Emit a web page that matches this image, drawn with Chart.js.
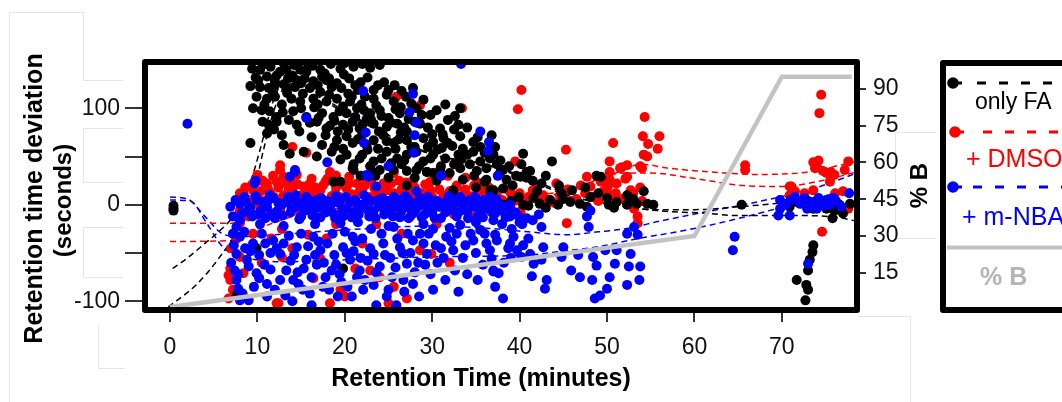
<!DOCTYPE html>
<html><head><meta charset="utf-8">
<script src="https://cdn.jsdelivr.net/npm/chart.js@4.4.1/dist/chart.umd.min.js"></script>
<style>html,body{margin:0;padding:0;background:#fff;overflow:hidden}#c{display:block}</style>
</head><body>
<canvas id="c" width="1062" height="402"></canvas>
<script>
// ---------- axis ticks ----------
const xTicks=[0,10,20,30,40,50,60,70];
const yTicks=[-100,-50,0,50,100];
const yTickLabels=['-100','','0','','100'];
const y2Ticks=[15,30,45,60,75,90];

// ---------- scatter series: [retention time (min), deviation (s)] ----------
const onlyFA=[[0.4,-1],[0.4,-4],[0.4,-6],
[9.4,141],[10.3,140],[12.6,138],[13.3,140],[14.9,140],[15.6,138],[17.2,140],[17.7,136],[19.5,141],[22.9,142],[11.5,143],[16.3,144],[21.0,143],
[10.1,129],[11.1,133],[12.2,134],[13.5,131],[14.5,129],[15.4,131],[16.4,128],[17.4,133],[17.9,129],[19.1,126],[20.5,131],[21.8,127],
[10.3,122],[11.3,121],[12.0,124],[13.3,121],[14.3,122],[16.0,121],[17.2,117],[18.5,122],[19.6,121],[20.4,115],[21.5,119],[23.3,119],[25.7,124],[24.5,127],[22.3,112],
[9.9,112],[11.1,110],[12.0,112],[13.9,110],[14.9,107],[16.4,110],[17.9,107],[19.1,110],[20.6,107],[21.9,104],[23.3,110],[24.8,114],[25.6,107],[29.0,109],[27.0,112],[26.4,101],
[9.5,100],[10.5,98],[11.4,97],[12.2,91],[14.1,97],[15.6,91],[17.4,95],[18.7,91],[20.2,95],[21.4,100],[22.9,95],[24.0,98],[26.3,95],[28.2,100],[29.8,93],[27.3,89],[25.0,90],[23.6,103],[19.8,102],[16.5,101],
[11.3,83],[12.2,86],[14.5,83],[16.8,86],[17.9,79],[19.8,83],[20.9,86],[21.7,79],[23.3,84],[24.8,81],[27.1,76],[28.6,84],[30.9,79],[33.2,100],[33.0,83],[26.0,84],[22.5,89],[18.8,87],[31.8,88],[30.0,73],
[9.2,64],[11.1,74],[12.8,72],[17.4,62],[19.1,67],[20.2,71],[20.9,64],[23.3,67],[24.4,72],[25.6,64],[27.1,67],[29.0,69],[30.1,65],[31.3,69],[33.2,71],[34.7,65],[22.0,73],[26.4,75],[28.0,60],[32.3,61],
[13.7,53],[15.3,55],[18.5,55],[20.2,52],[21.7,48],[23.3,45],[24.8,55],[26.0,48],[27.1,52],[29.0,45],[30.1,52],[31.1,59],[32.5,42],[34.0,52],[34.7,55],[36.6,48],[25.8,58],[22.6,57],[28.2,55],[33.3,47],
[18.7,24],[20.9,38],[22.9,40],[24.0,36],[25.6,36],[27.1,35],[28.2,36],[30.1,33],[32.0,33],[33.2,38],[34.3,42],[35.1,35],[36.2,38],[37.4,42],[31.0,40],[26.5,42],[29.4,34],[23.5,30],
[36.8,72],[37.2,60],[37.0,52],[38.1,36],[40.4,53],[40.2,42],[41.2,35],[40.8,28],[43.7,45],[42.5,22],[48.8,30],
[37.8,34],[40.1,29],[40.8,34],[38.1,17],[37.0,15],[38.1,0],[39.9,8],[41.6,7],[40.4,0],[42.3,1],[43.5,5],[44.4,0],[45.8,3],[46.9,1],[48.1,8],[47.7,-2],[49.3,29],[50.0,7],[50.2,0],[51.1,3],[52.3,10],[52.3,0],[53.4,1],[54.2,14],[54.6,1],[55.3,0],[39.2,20],[42.0,14],[44.8,12],[36.0,24],[35.0,18],
[65.4,0],[70.2,1],[70.9,-2],[71.7,3],[72.8,0],[73.6,-4],[74.5,1],[75.1,-4],[75.8,-14],[77.0,-9],[77.8,1],[76.6,0],[71.0,5],[73.0,4],[76.0,-6],[74.0,-2],
[73.6,-42],[73.5,-49],[73.2,-57],[73.0,-68],[71.7,-78],[72.8,-83],[73.0,-88],[72.7,-99],
[19.5,24],[21.0,36],[23.3,33],[27.1,20],[29.4,34],[30.9,36],[32.4,15],[36.6,15],[36.2,26],[9.9,-45],[19.8,-66],[7.6,-94],[24.0,0],[29.2,0],[32.4,1],
[10.8,146],[13.0,147],[14.2,145],[15.8,146],[18.4,146],[20.0,147],[22.0,146],[24.0,145],[12.0,128],[13.0,125],[14.0,134],[15.0,126],[16.9,124],[18.2,131],[19.9,135],[21.2,124],[22.6,132],[23.8,124],[25.0,119],[26.5,118],[27.8,121],
[10.8,104],[12.8,104],[13.4,116],[15.2,115],[16.9,104],[18.2,114],[19.4,97],[20.8,112],[22.2,98],[23.0,88],[24.2,92],[25.8,99],[27.6,105],[28.8,93],[30.5,98],[31.5,104],[32.6,92],
[12.9,96],[13.6,88],[15.0,100],[16.0,85],[17.0,90],[18.3,82],[19.2,76],[20.4,78],[21.2,91],[22.0,83],[23.9,76],[25.3,85],[26.8,80],[28.0,86],[29.5,80],[31.2,73],[32.5,78],[34.0,80],[35.2,70],
[14.8,76],[16.2,70],[17.8,72],[18.8,60],[19.8,58],[21.5,68],[22.5,62],[23.8,58],[24.8,66],[26.2,68],[27.6,60],[29.5,60],[30.6,57],[31.8,64],[33.5,58],[35.5,60],[36.0,54],
[16.8,50],[19.5,47],[21.0,42],[22.0,52],[24.2,48],[25.3,43],[26.8,46],[28.5,40],[29.8,48],[31.5,48],[33.0,52],[35.5,45],[37.8,46],[38.8,40],[39.6,30],
[21.8,30],[25.0,28],[28.0,28],[30.5,25],[33.5,26],[34.8,30],[38.5,26],[41.5,25],[43.0,30],[44.5,20],[46.0,15],[47.5,18],[49.0,12],[45.0,6],[39.0,4],[41.0,-1],[43.0,-3],[50.8,-3],[53.0,6],[11.8,115],[9.8,132],[9.2,123],[10.6,86],[11.9,78],[13.0,62]];

const dmso=[[8.4,12],[9.5,22],[10.9,20],[12.2,24],[13.3,22],[15.3,19],[16.4,10],[17.5,20],[18.9,12],[20.2,17],[21.4,22],[22.9,8],[24.4,22],[25.6,12],[27.1,17],[28.2,5],[29.8,15],[31.3,10],[32.8,20],[34.1,5],[35.5,17],[36.6,3],[37.4,8],
[12.6,36],[14.5,31],[18.3,34],[22.5,26],[25.6,33],[12.6,41],[11.1,22],[8.0,12],[9.5,15],
[8.0,-6],[10.3,-2],[12.6,-6],[14.9,-9],[17.9,-4],[21.0,-2],[23.3,-11],[26.3,0],[29.4,-7],[33.2,-6],[34.7,-12],[8.0,-19],[7.6,-35],
[9.0,5],[10.0,9],[11.5,12],[12.8,6],[14.0,14],[15.8,4],[17.0,12],[18.2,3],[19.4,8],[20.8,11],[22.0,15],[23.8,13],[25.0,4],[26.8,9],[28.8,12],[30.5,3],[32.0,14],[33.5,10],[35.0,8],[36.0,12],[38.0,5],[39.0,12],[40.5,3],[41.5,15],[42.5,8],[44.0,2],[45.5,16],[46.5,6],[47.5,12],[49.0,4],[50.5,10],[51.8,6],[53.0,12],[54.0,4],
[11.8,30],[16.2,27],[19.0,30],[23.0,31],[27.8,25],[30.5,27],[33.8,28],[14.2,-3],[20.5,-8],[24.5,-4],[27.5,-12],[31.2,-2],[35.8,-4],
[6.7,-73],[6.9,-78],[6.7,-97],[6.9,-66],[8.0,-54],[12.8,-54],[12.2,-102],[16.4,-76],[17.2,-56],[19.5,-88],[20.0,-95],[22.9,-68],[24.0,-75],[25.6,-85],[27.1,-97],[28.6,-47],[29.9,-51],[18.3,-102],[25.0,-102],[21.2,-66],[15.8,-31],[11.6,-35],[17.9,-35],[12.8,-25],[8.4,-71],[12.4,-102],[7.0,-45],[7.2,-88],[10.5,-60],[14.0,-45],[22.0,-40],[26.5,-30],[30.5,-20],[32.0,-60],[23.6,-20],[19.0,-20],[9.5,-30],
[40.2,119],[39.8,99],[45.3,57],[50.7,64],[50.3,45],[50.3,34],[50.3,26],[51.7,39],[52.3,41],[52.1,27],[54.3,91],[54.1,71],[56.0,71],[54.7,63],[55.8,58],[54.2,52],[54.6,50],[54.0,38],[65.8,41],[65.8,36],
[74.5,114],[74.3,95],[73.6,44],[74.0,40],[74.7,35],[73.8,38],[74.2,46],[75.3,33],[77.6,45],[77.2,36],[74.6,-28],[50.0,22],[51.5,38],[53.8,40],
[37.4,10],[38.5,-6],[40.1,-7],[42.7,10],[45.4,-19],[44.2,22],[47.7,29],[48.1,19],[49.3,24],[50.1,19],[51.1,22],[52.3,29],[53.5,-12],[53.1,-4],[53.5,-19],[52.7,15],
[75.6,34],[76.0,31],[70.9,19],[71.5,14],[73.6,15],[77.0,14],[71.1,19],[70.9,10],[72.6,12],[75.1,33],[75.5,24],[77.6,-4],[76.1,12],
[39.5,45],[25.9,112],[28.6,103],[33.4,100],[15.6,54],[14.0,60],[9.8,3],
[8.6,18],[9.1,-1],[9.8,26],[10.4,14],[10.8,4],[11.2,17],[11.9,8],[12.4,18],[13.0,10],[13.6,17],[13.9,3],[14.6,21],[15.0,10],[15.6,14],[16.0,22],[16.7,6],[17.2,15],[17.8,24],[18.5,9],[19.0,18],[19.8,4],[20.5,22],[21.0,7],[21.7,14],[22.3,20],[22.7,2],[23.4,17],[24.0,8],[24.8,15],[25.3,22],[26.0,7],[26.5,16],[27.4,10],[28.0,18],[28.5,8],[29.2,21],[30.0,8],[30.8,16],[31.6,5],[32.4,12],[33.0,3],[33.8,16],[34.5,9],[35.2,23],[36.2,6],[37.0,15],[37.8,-2],[38.6,16],[39.4,4],[40.0,12],[41.0,8],[42.0,18],[43.2,3],[44.6,10],[45.8,4],[47.0,20],[48.5,8],[49.6,14],[51.0,12],[52.6,6],[53.8,18],
[10.0,31],[13.0,29],[20.5,29],[26.2,25],[31.8,30],[9.0,-12],[11.0,-10],[15.5,-5],[19.0,-11],[22.5,-3],[25.8,-8],[29.0,0],[32.5,-10],[36.8,-8],
[9.2,19],[10.6,25],[13.8,24],[16.6,18],[18.0,27],[20.0,20],[23.0,24],[24.6,18],[27.0,23],[29.8,24],[32.8,18],[34.8,20],[36.5,18]];

const mnba=[[6.9,-2],[7.2,-12],[8.0,1],[8.0,-16],[8.8,-7],[9.7,22],[9.9,5],[11.1,-2],[11.8,7],[12.2,-7],[13.3,3],[14.5,-2],[15.6,8],[16.4,-6],[17.5,1],[18.7,-9],[19.5,5],[20.2,-4],[21.4,1],[22.5,7],[23.3,-6],[24.0,1],[25.2,-6],[25.6,8],[26.7,1],[27.8,-9],[29.0,3],[30.1,-4],[31.3,1],[32.4,-6],[33.6,3],[34.7,-2],[35.9,5],[37.0,-9],[13.7,29],[14.3,36],[23.6,19],[22.5,31],[28.2,14],
[7.5,5],[8.5,8],[9.2,-3],[10.0,-10],[10.6,3],[11.4,10],[12.0,-14],[12.8,0],[13.8,-8],[14.2,6],[15.0,-12],[15.2,2],[16.0,-1],[16.8,5],[17.2,-13],[18.0,4],[18.3,-3],[19.0,9],[19.8,-12],[20.6,3],[21.0,-8],[21.8,-2],[22.2,10],[22.8,-12],[23.8,5],[24.5,-10],[24.8,4],[25.9,-2],[26.3,-13],[27.2,6],[27.5,-4],[28.5,-1],[28.8,-13],[29.5,8],[30.0,-9],[30.6,4],[31.0,-14],[31.8,6],[32.0,-2],[32.8,-12],[33.2,8],[34.0,-7],[34.3,5],[35.2,-12],[35.5,1],[36.3,-4],[36.6,8],[37.5,3],[38.2,-2],[38.9,0],[37.2,-9],[39.5,-8],[40.8,-14],
[10.3,-20],[13.0,-22],[16.6,-20],[21.5,-18],[25.0,-22],[29.0,-20],[32.0,-24],[35.0,-18],
[8.2,-9],[8.7,3],[9.4,-12],[9.8,9],[10.4,-6],[10.9,-14],[11.2,4],[11.6,-9],[12.4,2],[12.9,-11],[13.5,8],[13.9,-4],[14.4,10],[14.8,-15],[15.4,-6],[15.9,5],[16.3,-11],[16.9,-3],[17.3,7],[17.8,-8],[18.4,0],[18.9,-14],[19.3,2],[19.7,-5],[20.1,8],[20.8,-13],[21.2,5],[21.6,-10],[22.0,0],[22.6,-5],[23.0,4],[23.5,-14],[23.9,-2],[24.3,7],[24.7,-7],[25.1,2],[25.5,-12],[26.1,5],[26.5,-6],[26.9,9],[27.3,-14],[27.7,2],[28.1,-5],[28.6,7],[29.1,-10],[29.4,-1],[29.9,5],[30.3,-14],[30.8,-2],[31.5,-8],[31.9,9],[32.3,0],[32.7,5],[33.0,-8],[33.5,-1],[34.1,-14],[34.5,2],[34.9,8],[35.4,-6],[35.8,-13],[36.1,3],[36.8,-2],[37.3,6],[37.8,-6],[38.4,-13],[39.0,-5],[39.8,-11],[40.3,-20],[41.5,-16],[42.2,-10],
[7.6,-23],[8.0,-33],[7.6,-51],[7.4,-68],[7.6,-78],[7.8,-87],[8.0,-99],[8.8,-57],[9.5,-40],[9.9,-71],[11.1,-95],[11.1,-82],[11.8,-37],[12.6,-51],[13.3,-68],[14.1,-78],[14.5,-44],[15.3,-66],[15.6,-57],[16.4,-33],[17.2,-47],[17.5,-85],[18.5,-68],[19.5,-19],[19.8,-44],[20.9,-33],[20.6,-57],[21.4,-75],[22.1,-88],[23.3,-51],[24.0,-64],[24.8,-95],[25.6,-23],[26.3,-44],[26.7,-78],[27.1,-61],[27.8,-37],[28.6,-30],[29.4,-51],[30.1,-88],[30.1,-25],[31.6,-33],[32.4,-47],[33.2,-21],[34.7,-37],[35.5,-26],[37.0,-69],[36.6,-47],[37.4,-37],[16.2,-104],[23.6,-104],[25.9,-104],[21.7,-68],[19.6,-80],[14.7,-82],[9.0,-99],[23.3,-83],
[8.5,-28],[9.2,-48],[10.5,-30],[10.8,-62],[12.0,-88],[13.0,-40],[13.8,-58],[15.0,-30],[16.0,-92],[16.8,-62],[18.0,-40],[18.8,-52],[19.2,-95],[20.0,-28],[21.0,-48],[22.0,-35],[22.6,-58],[23.0,-25],[24.4,-40],[25.2,-55],[25.4,-75],[26.0,-35],[27.5,-50],[28.0,-70],[28.5,-95],[29.0,-40],[30.6,-60],[31.0,-45],[32.8,-30],[33.5,-55],[34.0,-72],[35.0,-50],[35.8,-62],[36.0,-30],[31.5,-78],[33.0,-90],[29.8,-72],[26.8,-90],[11.5,-50],[14.0,-100],[17.8,-75],[20.3,-85],
[7.2,-30],[7.3,-42],[7.0,-60],[7.8,-72],[8.3,-92],[8.6,-45],[9.0,-64],[9.6,-85],[10.2,-52],[10.2,-76],[10.9,-40],[11.5,-67],[12.2,-45],[12.6,-78],[13.2,-94],[13.6,-32],[14.2,-52],[14.6,-70],[15.2,-88],[15.8,-43],[16.2,-75],[16.6,-52],[17.0,-38],[17.6,-60],[18.2,-88],[18.6,-30],[19.0,-62],[19.4,-72],[20.2,-50],[20.8,-95],[21.2,-38],[21.8,-55],[22.3,-78],[22.9,-45],[23.6,-70],[24.2,-30],[24.6,-52],[25.0,-88],[25.8,-65],[26.6,-50],[27.2,-30],[27.8,-82],[28.4,-60],[29.2,-62],[29.6,-30],[30.4,-42],[31.3,-55],[32.2,-38],[32.6,-68],[33.8,-42],[34.4,-30],[35.2,-78],[36.2,-40],[36.8,-56],
[37.0,-16],[37.2,-31],[37.0,-68],[37.6,-71],[37.2,-85],[38.1,-97],[38.9,-12],[39.1,-25],[38.9,-40],[39.3,-33],[38.7,-45],[39.7,-47],[40.4,-42],[40.2,-54],[41.2,-51],[41.6,-61],[41.4,-74],[42.5,-23],[42.7,-44],[42.5,-57],[43.1,-78],[42.9,-87],[45.0,-44],[44.8,-54],[45.9,-68],[46.9,-75],[46.7,-52],[47.7,-12],[48.1,-6],[47.9,-23],[48.4,-54],[48.8,-63],[48.3,-78],[48.6,-97],[49.2,-94],[50.0,-87],[50.3,-75],[50.9,-61],[51.1,-47],[49.8,-47],[52.3,-30],[52.7,-51],[52.5,-64],[52.3,-83],[53.7,-78],[53.8,-64],[53.1,-23],[53.5,-31],[38.0,-20],[40.0,-18],[39.0,-55],[41.0,-35],[38.2,-60],
[64.6,-33],[64.4,-47],
[69.8,5],[69.8,-4],[69.6,-11],[71.1,5],[70.9,-11],[72.1,1],[72.6,7],[73.6,3],[74.2,7],[74.0,-4],[75.1,5],[75.5,0],[75.9,7],[76.8,-2],[77.7,12],[72.9,-4],[70.5,0],[73.0,-61],[71.5,8],[73.2,-2],[76.2,4],[74.8,-1],
[2.0,84],[22.1,118],[15.6,90],[22.4,75],[22.2,64],[27.8,115],[27.4,96],[28.2,85],[28.0,72],[27.9,54],[14.3,34],[9.8,25],[22.7,29],[35.5,76],[36.5,65],[36.4,56],[33.3,146],[25.0,40],[31.0,30],[18.0,44],[37.5,30]];

// ---------- fitted trend curves ----------
const fitFA1=[[0.3,-66],[2,-55],[4,-40],[5.3,-30],[7.2,-12],[8.4,10],[9.2,24],[10.3,57],[11.4,95],[12.2,117],[13.5,128],[15,125],[17,112],[20,95],[25,72],[30,52],[35,44],[38,36],[42,22],[45.4,10],[50,1],[55.7,-5],[60,-5],[65,-2],[70,2],[74,7],[78.6,13]];
const fitFA2=[[-0.2,-106],[3.1,-82],[5.7,-54],[8,-22],[9.5,10],[10.7,57],[11.8,95],[12.8,118],[14.3,126],[16,120],[18,108],[21,92],[26,68],[31,50],[36,42],[39,34],[43,20],[46,9],[50,1],[55.7,-6],[61.8,-9],[64.5,-11],[70.5,-11],[75.9,-12.5],[78.6,-17]];
const fitDMSO1=[[0,-19],[7,-19],[10,-12],[15,-3],[20,2],[30,5],[40,8],[45,14],[48,20],[51,33],[54,42],[57,38],[62,34],[67,31.5],[72,33],[78.6,45]];
const fitDMSO2=[[0,-38],[7,-37],[10,-25],[15,-10],[20,-3],[30,0],[40,3],[43,8],[47,20],[52,33],[55,33],[59.5,28],[65.6,20],[70,19],[74,24],[78.6,34]];
const fitNBA1=[[0,8],[2,6],[4,-12],[6,-30],[8,-33],[12,-31],[20,-26],[30,-22],[36.6,-24.5],[41,-28],[45.4,-31],[49,-28],[52.3,-24.5],[56,-17],[60.3,-9],[65,-1],[69,6.6],[74,18],[78.6,33]];
const fitNBA2=[[0,5],[2.3,4],[4.2,-19],[5.7,-40],[6.9,-50],[8,-54],[9.2,-56],[12.6,-59],[20,-57],[30,-54],[41,-52],[45,-48],[49,-43.5],[53,-36],[60,-24.5],[66,-12],[70.6,-1],[78.6,18]];

// ---------- solvent gradient (% B) ----------
const gradTime=[0,60,70,78];
const gradB=[1,30,95,95];

const FONT="'Liberation Sans', Arial, Helvetica, sans-serif";
Chart.defaults.font.family=FONT;
const xy=a=>a.map(p=>({x:p[0],y:p[1]}));

function pts(label,data,color,order){return{type:'scatter',label,data:xy(data),backgroundColor:color,borderWidth:0,pointRadius:5,pointHoverRadius:5,order,showLine:false};}
function fit(data,color){return{type:'line',data:xy(data),borderColor:color,borderWidth:1.5,borderDash:[6,4],pointRadius:0,fill:false,showLine:true,cubicInterpolationMode:'monotone',order:5};}

const frameAndText={
  id:'frameAndText',
  beforeDraw(c){
    const ctx=c.ctx;ctx.save();
    ctx.fillStyle='#fff';ctx.fillRect(0,0,c.width,c.height);
    ctx.strokeStyle='#e6e6e6';ctx.lineWidth=1;
    const L=(x1,y1,x2,y2)=>{ctx.beginPath();ctx.moveTo(x1,y1);ctx.lineTo(x2,y2);ctx.stroke();};
    L(9.5,12,9.5,402);L(9.5,12.5,84,12.5);L(83.5,12,83.5,80);L(83,80.5,123,80.5);
    L(83.5,128,83.5,182);L(83,128.5,123,128.5);L(83,182.5,123,182.5);
    L(83.5,227,83.5,277);L(83,227.5,123,227.5);L(83,277.5,123,277.5);
    L(98.5,325,98.5,368);L(98,368.5,125,368.5);
    L(858,316.5,911,316.5);L(910.5,316,910.5,402);
    L(895.5,132,895.5,238);L(895,132.5,937,132.5);L(895,238.5,937,238.5);
    ctx.restore();
  },
  afterDraw(c){
    const ctx=c.ctx,a=c.chartArea;ctx.save();
    ctx.strokeStyle='#000';ctx.lineWidth=6;ctx.lineJoin='round';
    ctx.strokeRect(a.left,a.top,a.right-a.left,a.bottom-a.top);
    ctx.fillStyle='#000';ctx.textAlign='center';ctx.textBaseline='alphabetic';
    ctx.font="bold 25px "+FONT;
    ctx.fillText('Retention Time (minutes)',481,386);
    ctx.save();ctx.translate(41.5,198.5);ctx.rotate(-Math.PI/2);ctx.fillText('Retention time deviation',0,0);ctx.restore();
    ctx.font="bold 24px "+FONT;
    ctx.save();ctx.translate(70.5,200.5);ctx.rotate(-Math.PI/2);ctx.fillText('(seconds)',0,0);ctx.restore();
    ctx.save();ctx.translate(926.5,185.5);ctx.rotate(-Math.PI/2);ctx.fillText('% B',0,0);ctx.restore();
    ctx.lineWidth=6;ctx.strokeStyle='#000';ctx.strokeRect(943,63,200,247);
    const item=(y,col,dx,dashStart)=>{
      ctx.fillStyle=col;ctx.beginPath();ctx.arc(dx,y,5.8,0,Math.PI*2);ctx.fill();
      ctx.strokeStyle=col;ctx.lineWidth=3;ctx.setLineDash([]);
      ctx.beginPath();ctx.moveTo(dx,y);ctx.lineTo(dx+9,y);ctx.stroke();
      ctx.setLineDash([9,13]);ctx.beginPath();ctx.moveTo(dashStart,y);ctx.lineTo(1070,y);ctx.stroke();ctx.setLineDash([]);
    };
    item(83,'#000',953,977);
    item(132,'#ff0000',955,983);
    item(187,'#0000ff',953,973);
    ctx.strokeStyle='#c3c3c3';ctx.lineWidth=4;ctx.beginPath();ctx.moveTo(947,247.5);ctx.lineTo(1070,247.5);ctx.stroke();
    ctx.textAlign='left';ctx.textBaseline='alphabetic';
    ctx.font="23px "+FONT;ctx.fillStyle='#000';ctx.fillText('only FA',975,109);
    ctx.font="25px "+FONT;ctx.fillStyle='#ff0000';ctx.fillText('+ DMSO',966,166.5);
    ctx.fillStyle='#0000ff';ctx.fillText('+ m-NBA',962,225);
    ctx.font="bold 25px "+FONT;ctx.fillStyle='#b4b4b4';ctx.fillText('% B',980,285);
    ctx.restore();
  }
};

new Chart(document.getElementById('c'),{
  type:'scatter',
  data:{datasets:[
    {type:'line',label:'% B',data:gradTime.map((t,i)=>({x:t,y:gradB[i]})),yAxisID:'y2',borderColor:'#c3c3c3',borderWidth:4.5,pointRadius:0,fill:false,showLine:true,tension:0,order:0},
    pts('+ m-NBA',mnba,'#0000ff',1),
    pts('only FA',onlyFA,'#000000',2),
    pts('+ DMSO',dmso,'#ff0000',3),
    fit(fitFA1,'#000'),fit(fitFA2,'#000'),
    fit(fitDMSO1,'#ff0000'),fit(fitDMSO2,'#ff0000'),
    fit(fitNBA1,'#0000ff'),fit(fitNBA2,'#0000ff')
  ]},
  options:{
    responsive:false,animation:false,events:[],
    layout:{padding:{top:62,left:0,right:0,bottom:0}},
    plugins:{legend:{display:false},tooltip:{enabled:false}},
    scales:{
      x:{type:'linear',position:'bottom',min:-2.86,max:78.6,
        afterBuildTicks:s=>{s.ticks=xTicks.map(v=>({value:v}));},
        afterFit:s=>{s.height=92;},
        grid:{drawOnChartArea:false,drawTicks:true,tickLength:12,color:'#333',lineWidth:2},
        border:{display:false},
        ticks:{font:{size:23},color:'#111',padding:12,maxRotation:0,autoSkip:false}},
      y:{type:'linear',position:'left',min:-109,max:148,
        afterBuildTicks:s=>{s.ticks=yTicks.map(v=>({value:v}));},
        afterFit:s=>{s.width=145;},
        grid:{drawOnChartArea:false,drawTicks:true,tickLength:20,color:'#333',lineWidth:2},
        border:{display:false},
        ticks:{font:{size:23},color:'#111',padding:5,autoSkip:false,callback:(v,i)=>yTickLabels[i]}},
      y2:{type:'linear',position:'right',min:-0.2,max:101,
        afterBuildTicks:s=>{s.ticks=y2Ticks.map(v=>({value:v}));},
        afterFit:s=>{s.width=205;},
        grid:{drawOnChartArea:false,drawTicks:true,tickLength:9,color:'#333',lineWidth:2},
        border:{display:false},
        ticks:{font:{size:23},color:'#111',padding:7,autoSkip:false}}
    }
  },
  plugins:[frameAndText]
});
</script>
</body></html>
